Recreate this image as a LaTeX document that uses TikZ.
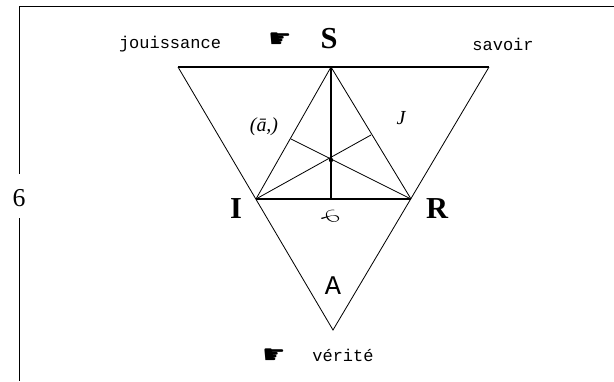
\documentclass[tikz,border=0pt]{standalone}
\usepackage{fontspec}
\setmainfont{Liberation Serif}
\newfontfamily\monofont{Liberation Mono}
\newfontfamily\handfont{DejaVu Sans}
\usetikzlibrary{calc}

\begin{document}
\begin{tikzpicture}[
    x=0.03cm, y=-0.03cm,
    frame/.style={line width=0.6pt},
    edge/.style={line width=0.7pt},
    bar/.style={line width=1.1pt},
    word/.style={font=\monofont\fontsize{14.5}{16}\selectfont, inner sep=0pt},
    corner/.style={font=\bfseries\fontsize{26}{28}\selectfont, inner sep=0pt},
    hand/.style={font=\handfont\fontsize{22}{24}\selectfont, inner sep=0pt},
    tag/.style={font=\itshape\fontsize{17}{19}\selectfont, inner sep=0pt}
]
\useasboundingbox (0,0) rectangle (614,381);

% frame
\coordinate (f1) at (614,6);
\coordinate (f2) at (19,6);
\coordinate (f3) at (19,174);
\coordinate (f4) at (19,218);
\coordinate (f5) at (19,381);
\draw[frame] (f1) -- (f2) -- (f3);
\draw[frame] (f4) -- (f5);
\node[font=\fontsize{22}{24}\selectfont, inner sep=0pt] (num) at (19,198) {6};

% big triangle
\coordinate (tl) at (178,67);
\coordinate (tr) at (489,67);
\coordinate (bot) at (333,330);
\draw[bar] (tl) -- (tr);
\draw[edge] (tl) -- (bot) -- (tr);

% inner triangle
\coordinate (S) at (331,67);
\coordinate (I) at (256,199);
\coordinate (R) at (411,199);
\coordinate (mid) at (331,199);
\coordinate (ctr) at (331,160);
\coordinate (fl) at (291,139);
\coordinate (fr) at (371,135);
\draw[edge] (I) -- (S) -- (R);
\draw[bar] (I) -- (R);
\draw[bar] (S) -- (mid);
\draw[edge] (I) -- (fr);
\draw[edge] (R) -- (fl);
\fill (ctr) circle (2.2);

% labels
\node[word] (jou) at (170,44) {jouissance};
\node[word] (sav) at (503,44) {savoir};
\node[hand] (hand1) at (280,40) {☛};
\node[corner] (s) at (329,39) {S};
\node[corner] (i) at (236,209) {I};
\node[corner] (r) at (437,209) {R};
\node[font=\monofont\fontsize{23}{25}\selectfont, inner sep=0pt] (a) at (333,286) {A};
\node[hand] (hand2) at (274,356) {☛};
\node[word] (ver) at (343,355) {vérité};
\node[tag] (sl) at (264,127) {(ā,)};
\node[tag] (sr) at (401,118) {J};
\node[tag, font=\fontsize{20}{22}\selectfont, rotate=-60] (sb) at (330,218) {$\varphi$};
\end{tikzpicture}
\end{document}
